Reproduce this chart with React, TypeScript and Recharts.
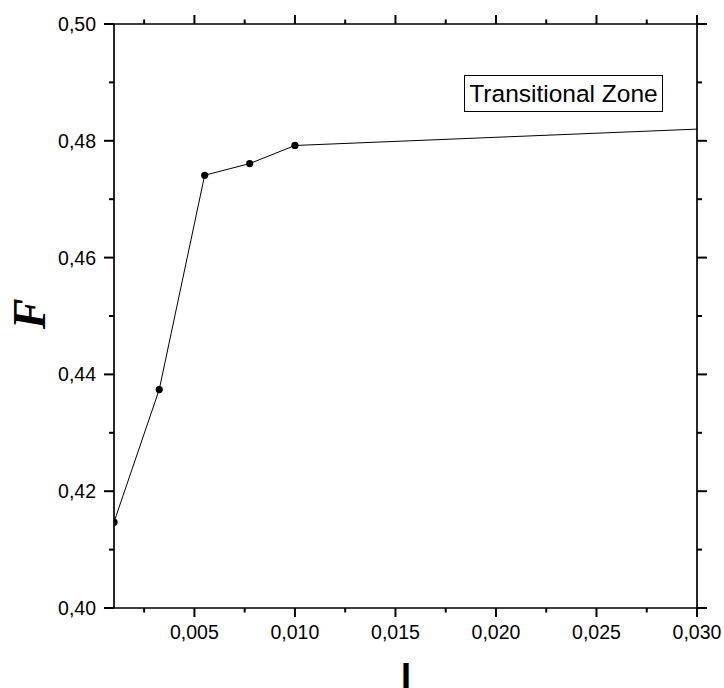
import React from 'react';
import { LineChart, Line, XAxis, YAxis } from 'recharts';

const iValues = [0.001, 0.00325, 0.00551, 0.00775, 0.01, 0.03];
const fValues = [0.4147, 0.4374, 0.4741, 0.4761, 0.4792, 0.482];
const xTicks = [0.0025, 0.005, 0.0075, 0.01, 0.0125, 0.015, 0.0175, 0.02, 0.0225, 0.025, 0.0275, 0.03];
const yTicks = [0.4, 0.41, 0.42, 0.43, 0.44, 0.45, 0.46, 0.47, 0.48, 0.49, 0.5];
const legendText = 'Transitional Zone';
const xTitle = 'I';
const yTitle = 'F';

const data = iValues.map((v, i) => ({ i: v, f: fValues[i] }));

const isMajor = (v: number, step: number) => Math.abs(v / step - Math.round(v / step)) < 1e-6;
const FONT = '"Liberation Sans", Arial, sans-serif';
const AX = 1.7;
const TK = 2;

const BottomTick = (props: any) => {
  const { x, y, payload } = props;
  const v = payload.value;
  const major = isMajor(v, 0.005);
  return (
    <g>
      <line x1={x} x2={x} y1={y} y2={y + (major ? 9 : 4.5)} stroke="#000" strokeWidth={TK} />
      {major && (
        <text x={x} y={y + 31} textAnchor="middle" fontSize={19.5} fontFamily={FONT} fill="#000">
          {v.toFixed(3).replace('.', ',')}
        </text>
      )}
    </g>
  );
};

const TopTick = (props: any) => {
  const { x, y, payload } = props;
  const major = isMajor(payload.value, 0.005);
  return <line x1={x} x2={x} y1={y} y2={y - (major ? 9 : 4.5)} stroke="#000" strokeWidth={TK} />;
};

const LeftTick = (props: any) => {
  const { x, y, payload } = props;
  const v = payload.value;
  const major = isMajor(v, 0.02);
  return (
    <g>
      <line x1={x} x2={x - (major ? 10 : 5)} y1={y} y2={y} stroke="#000" strokeWidth={TK} />
      {major && (
        <text x={x - 18} y={y + 7} textAnchor="end" fontSize={19.5} fontFamily={FONT} fill="#000">
          {v.toFixed(2).replace('.', ',')}
        </text>
      )}
    </g>
  );
};

const RightTick = (props: any) => {
  const { x, y, payload } = props;
  const major = isMajor(payload.value, 0.02);
  return <line x1={x} x2={x + (major ? 10 : 5)} y1={y} y2={y} stroke="#000" strokeWidth={TK} />;
};

const Dot = (props: any) => {
  const { cx, cy, index } = props;
  if (index === data.length - 1) return <g key={`d${index}`} />;
  return <circle key={`d${index}`} cx={cx} cy={cy} r={3.6} fill="#000" />;
};

export default function App() {
  return (
    <div style={{ position: 'absolute', left: 0, top: 0, width: 724, height: 688, background: '#fff', overflow: 'hidden' }}>
      <LineChart width={724} height={688} data={data} margin={{ top: 14, right: 17, left: 0, bottom: 0 }}>
        <XAxis
          xAxisId="bottom"
          dataKey="i"
          type="number"
          domain={[0.001, 0.03]}
          allowDataOverflow
          ticks={xTicks}
          height={80}
          tickSize={0}
          tickMargin={0}
          tickLine={false}
          axisLine={{ stroke: '#000', strokeWidth: AX }}
          tick={<BottomTick />}
          interval={0}
          label={(p: any) => (
            <text x={406} y={689} textAnchor="middle" fontSize={36} fontWeight="bold" fontFamily={FONT} fill="#000">
              {xTitle}
            </text>
          )}
        />
        <XAxis
          xAxisId="top"
          orientation="top"
          dataKey="i"
          type="number"
          domain={[0.001, 0.03]}
          allowDataOverflow
          ticks={xTicks}
          height={10}
          tickSize={0}
          tickMargin={0}
          tickLine={false}
          axisLine={{ stroke: '#000', strokeWidth: AX }}
          tick={<TopTick />}
          interval={0}
        />
        <YAxis
          yAxisId="left"
          type="number"
          domain={[0.4, 0.5]}
          allowDataOverflow
          ticks={yTicks}
          width={114}
          tickSize={0}
          tickMargin={0}
          tickLine={false}
          axisLine={{ stroke: '#000', strokeWidth: AX }}
          tick={<LeftTick />}
          interval={0}
          label={(p: any) => (
            <text
              x={45}
              y={314}
              transform="rotate(-90, 45, 314)"
              textAnchor="middle"
              fontSize={46}
              fontWeight="bold"
              fontStyle="italic"
              fontFamily='"Liberation Serif", "Times New Roman", serif'
              fill="#000"
            >
              {yTitle}
            </text>
          )}
        />
        <YAxis
          yAxisId="right"
          orientation="right"
          type="number"
          domain={[0.4, 0.5]}
          allowDataOverflow
          ticks={yTicks}
          width={10}
          tickSize={0}
          tickMargin={0}
          tickLine={false}
          axisLine={{ stroke: '#000', strokeWidth: AX }}
          tick={<RightTick />}
          interval={0}
        />
        <Line
          xAxisId="top"
          yAxisId="right"
          dataKey="f"
          type="linear"
          stroke="none"
          dot={false}
          activeDot={false}
          isAnimationActive={false}
        />
        <Line
          xAxisId="bottom"
          yAxisId="left"
          dataKey="f"
          type="linear"
          stroke="#000"
          strokeWidth={1}
          dot={Dot}
          activeDot={false}
          isAnimationActive={false}
        />
      </LineChart>
      <div
        style={{
          position: 'absolute',
          left: 464,
          top: 75,
          width: 197,
          height: 35,
          border: '1px solid #000',
          fontFamily: FONT,
          fontSize: 24.5,
          lineHeight: '35px',
          textAlign: 'center',
          color: '#000',
          background: '#fff',
          whiteSpace: 'nowrap',
        }}
      >
        {legendText}
      </div>
    </div>
  );
}
